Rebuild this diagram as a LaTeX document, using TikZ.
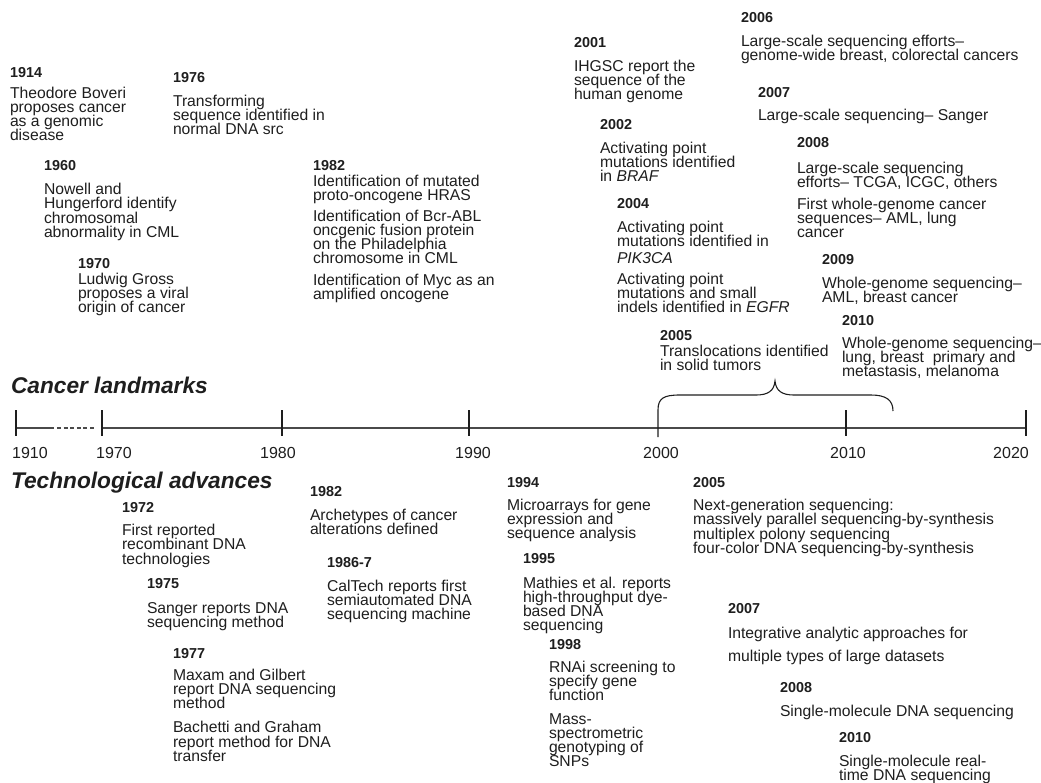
\documentclass[tikz,border=0pt]{standalone}
\usepackage{fontspec}
\setmainfont{Liberation Sans}
\definecolor{txt}{HTML}{1E1E1E}
\definecolor{axc}{HTML}{4A4A4A}
\newcommand\bodyf[1][14]{\fontsize{15.7}{#1}\selectfont\lineskiplimit=-30pt\lineskip=0pt}
\newcommand\yr[1]{{\fontsize{14.4}{14}\bfseries #1}}
\tikzset{
  blk/.style={anchor=north west, inner sep=0pt, outer sep=0pt, align=left, text=txt, font=\bodyf},
  blkw/.style={anchor=north west, inner sep=0pt, outer sep=0pt, align=left, text=txt, font={\bodyf[#1]}},
  heading/.style={anchor=north west, inner sep=0pt, outer sep=0pt, text=txt, font=\fontsize{22.7}{22}\selectfont\bfseries\itshape},
  axlabel/.style={anchor=north, inner sep=0pt, outer sep=0pt, text=txt, font=\fontsize{16}{16}\selectfont},
  axisline/.style={draw=axc, line width=1.6pt},
  tickline/.style={draw=txt, line width=1.1pt},
  bracel/.style={draw=txt, line width=1.1pt}
}
\begin{document}
\begin{tikzpicture}[x=1pt,y=-1pt]
\useasboundingbox (0,0) rectangle (1041,782);
% ---------------- axis ----------------
\coordinate (a1910) at (16,428);
\coordinate (a1910e) at (54,428);
\coordinate (adash1) at (57,428);
\coordinate (adash2) at (94,428);
\coordinate (a1970) at (102,428);
\coordinate (a2020) at (1026,428);
\draw[axisline] (a1910) -- (a1910e);
\draw[axisline, dash pattern=on 4pt off 2.6pt] (adash1) -- (adash2);
\draw[axisline] (a1970) -- (a2020);
\foreach \x in {16,102,282,469,846,1026}{
  \draw[tickline] (\x,410) -- (\x,436);
}
% brace (2000 - ~2012)
\draw[bracel] (658,437) -- (658,410) .. controls (658,398) and (664,395) .. (680,395)
  -- (756,395) .. controls (768,395) and (774,391) .. (775,381)
  .. controls (776,391) and (782,395) .. (794,395)
  -- (871,395) .. controls (886,395) and (893,400) .. (893,411);
% axis labels
\node[axlabel] (l1910) at (30,447) {1910};
\node[axlabel] (l1970) at (114,447) {1970};
\node[axlabel] (l1980) at (278,447) {1980};
\node[axlabel] (l1990) at (473,447) {1990};
\node[axlabel] (l2000) at (661,447) {2000};
\node[axlabel] (l2010) at (848,447) {2010};
\node[axlabel] (l2020) at (1011,447) {2020};
% headings
\node[heading] (hcancer) at (11,377) {Cancer landmarks};
\node[heading] (htech) at (11,472) {Technological advances};
% ---------------- cancer landmarks ----------------
\node[blk] (n1914) at (10,67) {\yr{1914}\\[7pt]Theodore Boveri\\proposes cancer\\as a genomic\\disease};
\node[blk] (n1976) at (173,72) {\yr{1976}\\[10pt]Transforming\\sequence identified in\\normal DNA src};
\node[blkw=14.5] (n1960) at (44,160) {\yr{1960}\\[9.5pt]Nowell and\\Hungerford identify\\chromosomal\\abnormality in CML};
\node[blk] (n1970) at (78,258) {\yr{1970}\\[2pt]Ludwig Gross\\proposes a viral\\origin of cancer};
\node[blk] (n1982a) at (313,160) {\yr{1982}\\[2pt]Identification of mutated\\proto-oncogene HRAS\\[7.5pt]Identification of Bcr-ABL\\oncgenic fusion protein\\on the Philadelphia\\chromosome in CML\\[7.5pt]Identification of Myc as an\\amplified oncogene};
\node[blk] (n2001) at (574,37) {\yr{2001}\\[10pt]IHGSC report the\\sequence of the\\human genome};
\node[blkw=14.5] (n2006) at (741,12) {\yr{2006}\\[9.5pt]Large-scale sequencing efforts–\\genome-wide breast, colorectal cancers};
\node[blk] (n2007a) at (758,87) {\yr{2007}\\[9pt]Large-scale sequencing– Sanger};
\node[blk] (n2002) at (600,119) {\yr{2002}\\[10pt]Activating point\\mutations identified\\in \textit{BRAF}};
\node[blk] (n2008a) at (797,137) {\yr{2008}\\[12pt]Large-scale sequencing\\efforts– TCGA, ICGC, others\\[8pt]First whole-genome cancer\\sequences– AML, lung\\cancer};
\node[blk] (n2004) at (617,198) {\yr{2004}\\[10pt]Activating point\\mutations identified in\\[3.5pt]\textit{PIK3CA}\\[6.5pt]Activating point\\mutations and small\\indels identified in \textit{EGFR}};
\node[blk] (n2009) at (822,254) {\yr{2009}\\[10pt]Whole-genome sequencing–\\AML, breast cancer};
\node[blk] (n2010a) at (842,315) {\yr{2010}\\[9pt]Whole-genome sequencing–\\lung, breast\ \ primary and\\metastasis, melanoma};
\node[blk] (n2005a) at (660,330) {\yr{2005}\\[2pt]Translocations identified\\in solid tumors};
% ---------------- technological advances ----------------
\node[blkw=14.5] (n1972) at (122,502) {\yr{1972}\\[8.5pt]First reported\\recombinant DNA\\technologies};
\node[blk] (n1982b) at (310,486) {\yr{1982}\\[10pt]Archetypes of cancer\\alterations defined};
\node[blk] (n1975) at (147,578) {\yr{1975}\\[11pt]Sanger reports DNA\\sequencing method};
\node[blk] (n1986) at (327,557) {\yr{1986-7}\\[10pt]CalTech reports first\\semiautomated DNA\\sequencing machine};
\node[blkw=14.3] (n1977) at (173,648) {\yr{1977}\\[8pt]Maxam and Gilbert\\report DNA sequencing\\method\\[9.5pt]Bachetti and Graham\\report method for DNA\\transfer};
\node[blk] (n1994) at (507,477) {\yr{1994}\\[9pt]Microarrays for gene\\expression and\\sequence analysis};
\node[blk] (n1995) at (523,553) {\yr{1995}\\[11pt]Mathies et al. reports\\high-throughput dye-\\based DNA\\sequencing};
\node[blk] (n1998) at (549,639) {\yr{1998}\\[9pt]RNAi screening to\\specify gene\\function\\[10pt]Mass-\\spectrometric\\genotyping of\\SNPs};
\node[blkw=14.5] (n2005b) at (693,477) {\yr{2005}\\[8.5pt]Next-generation sequencing:\\massively parallel sequencing-by-synthesis\\multiplex polony sequencing\\four-color DNA sequencing-by-synthesis};
\node[blk] (n2007b) at (728,603) {\yr{2007}\\[11pt]Integrative analytic approaches for\\[9pt]multiple types of large datasets};
\node[blk] (n2008b) at (780,682) {\yr{2008}\\[10pt]Single-molecule DNA sequencing};
\node[blk] (n2010b) at (839,732) {\yr{2010}\\[10.5pt]Single-molecule real-\\time DNA sequencing};
\end{tikzpicture}
\end{document}
